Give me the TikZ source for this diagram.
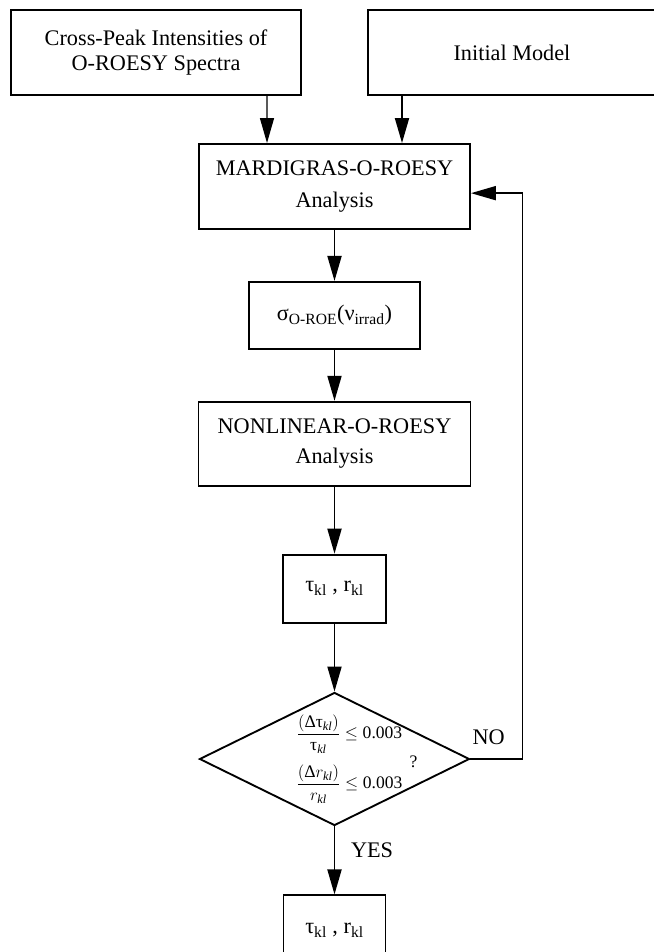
\documentclass[tikz,border=0pt]{standalone}
\usepackage{amsmath,amssymb}
\usepackage{fontspec}
\setmainfont{Liberation Serif}
\usetikzlibrary{arrows.meta,positioning,shapes.geometric}

\begin{document}
\begin{tikzpicture}[
                            x=0.03cm, y=0.03cm,
                            >={Triangle[length=0.75cm,width=0.42cm]},
                            line width=1.6pt,
                            node distance=1.53cm,
                            font=\fontsize{19}{23}\selectfont
                        ]
                        \tikzstyle{box}=[draw=black,align=center,inner sep=4pt]
                        \tikzstyle{flow}=[->]
                        \tikzstyle{cond}=[font=\fontsize{15}{18}\selectfont,inner sep=0pt]

                        \useasboundingbox (0,0) rectangle (654,952);

                        % inputs
                        \node[box,minimum width=8.7cm,minimum height=2.55cm]   (spectra) at (156,899.5) {Cross-Peak Intensities of\\[-1pt]O-ROESY Spectra};
                        \node[box,minimum width=12cm,minimum height=2.55cm]    (model)   at (568,899.5) {\hspace*{-3.36cm}Initial Model};

                        % main column
                        \node[box,minimum width=8.13cm,minimum height=2.55cm]  (mardi)   at (334.5,765.5) {MARDIGRAS-O-ROESY\\[5pt]Analysis};
                        \node[box,minimum width=5.13cm,minimum height=2.01cm]  (sigma)   [below=of mardi] {σ\textsubscript{O-ROE}(ν\textsubscript{irrad})};
                        \node[box,minimum width=8.16cm,minimum height=2.52cm]  (nonlin)  [below=of sigma] {NONLINEAR-O-ROESY\\[3pt]Analysis};
                        \node[box,minimum width=3.09cm,minimum height=2.04cm]  (tau)     [below=2.01cm of nonlin] {τ\textsubscript{kl} , r\textsubscript{kl}};
                        \node[draw,diamond,minimum width=8.1cm,minimum height=3.99cm,inner sep=0pt] (check) [below=2.04cm of tau] {};
                        \node[box,minimum width=3.06cm,minimum height=2.1cm]   (result)  [below=2.04cm of check] {τ\textsubscript{kl} , r\textsubscript{kl}};

                        % convergence test
                        \node[cond] (cond1) at ([shift={(15,25)}]check.center)  {$\dfrac{(\text{Δτ}_{\textit{kl}})}{\text{τ}_{\textit{kl}}}\le\text{0.003}$};
                        \node[cond] (cond2) at ([shift={(15,-25)}]check.center) {$\dfrac{(\text{Δ}r_{\textit{kl}})}{r_{\textit{kl}}}\le\text{0.003}$};
                        \node[cond] (quest) at ([shift={(79,-3)}]check.center)  {?};

                        \path
                        ([xshift=3.33cm]spectra.south) edge [flow,line width=1.1pt] ([xshift=-2.025cm]mardi.north)
                        ([xshift=-4.98cm]model.south)  edge [flow] ([xshift=2.025cm]mardi.north)
                        (mardi)  edge [flow] (sigma)
                        (sigma)  edge [flow] (nonlin)
                        (nonlin) edge [flow] (tau)
                        (tau)    edge [flow] (check)
                        (check)  edge [flow] node [right=0.35cm,pos=0.35] {YES} (result)
                        ;
                        \draw[flow] (check.east) -- ++(52,0) node [pos=0.35,above=0.27cm] {NO} |- ([yshift=-0.2cm]mardi.east);
                    \end{tikzpicture}
\end{document}
